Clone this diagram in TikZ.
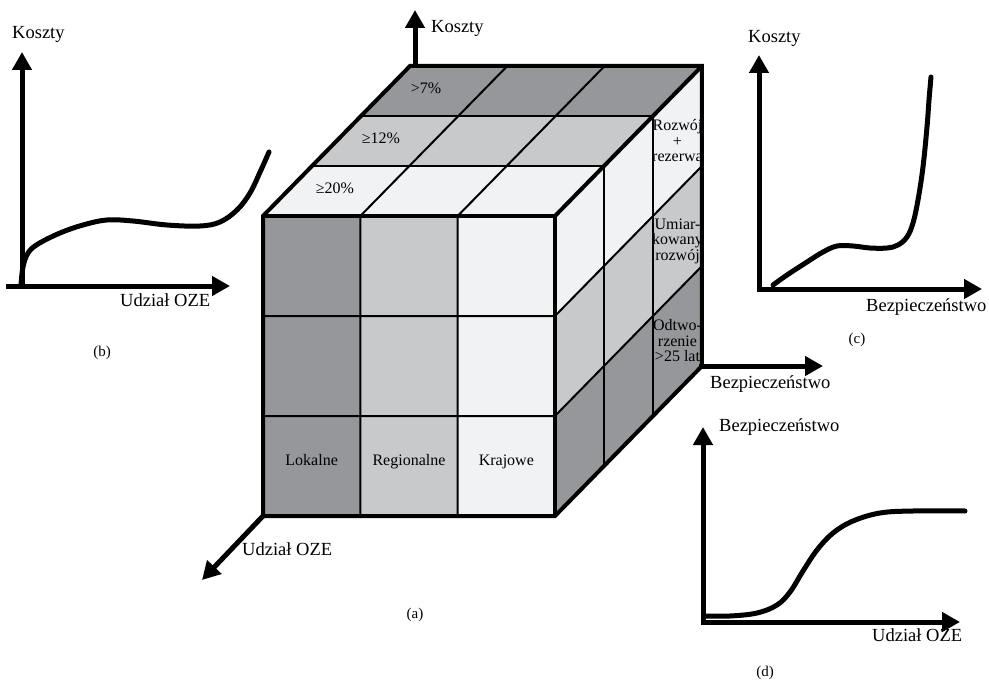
\documentclass[tikz,border=0pt]{standalone}
\usepackage{fontspec}
\setmainfont{Liberation Serif}
\usetikzlibrary{arrows.meta}

\definecolor{ciemny}{RGB}{150,151,155}
\definecolor{sredni}{RGB}{200,201,203}
\definecolor{jasny}{RGB}{241,242,244}

\tikzset{
  os/.style={line width=5pt, line cap=rect, -{Triangle[length=18pt,width=19pt]}},
  krzywa/.style={line width=5pt, line cap=round},
  krawedz/.style={line width=4pt},
  siatka/.style={line width=2pt},
  etykieta/.style={font=\fontsize{18.5}{20}\selectfont, inner sep=0pt},
  komorka/.style={font=\fontsize{16}{16}\selectfont, inner sep=0pt},
  sciana/.style={font=\fontsize{16}{15.5}\selectfont, inner sep=0pt, align=center},
  podpis/.style={font=\fontsize{15}{16}\selectfont, inner sep=0pt}
}

\begin{document}
\begin{tikzpicture}[x=1pt,y=-1pt]
  \useasboundingbox (0,0) rectangle (989,690);

  % Szescian
  \begin{scope}[shift={(263,516)}, x={(97.33pt,0pt)}, y={(0pt,100pt)}, z={(49pt,50pt)}]
    \foreach \i/\kol in {0/ciemny,1/sredni,2/jasny}
      \fill[\kol] (\i,0,0) -- (\i+1,0,0) -- (\i+1,3,0) -- (\i,3,0) -- cycle;
    \foreach \k/\kol in {0/jasny,1/sredni,2/ciemny}
      \fill[\kol] (0,3,\k) -- (3,3,\k) -- (3,3,\k+1) -- (0,3,\k+1) -- cycle;
    \foreach \j/\kol in {0/ciemny,1/sredni,2/jasny}
      \fill[\kol] (3,\j,0) -- (3,\j,3) -- (3,\j+1,3) -- (3,\j+1,0) -- cycle;

    % Siatka
    \foreach \t in {1,2} {
      \draw[siatka] (\t,0,0) -- (\t,3,0) -- (\t,3,3);
      \draw[siatka] (0,\t,0) -- (3,\t,0) -- (3,\t,3);
      \draw[siatka] (0,3,\t) -- (3,3,\t) -- (3,0,\t);
    }

    % Opisy na scianach
    \foreach \i/\nazwa in {0/Lokalne,1/Regionalne,2/Krajowe}
      \node[komorka, anchor=base] (front\i) at (\i+0.5,0.51,0) {\nazwa};
    \begin{scope}
      \clip (3,0,0) -- (3,0,3) -- (3,3,3) -- (3,3,0) -- cycle;
      \node[sciana] (bok0) at (3,0.5,2.5) {Odtwo-\\rzenie\\>25 lat};
      \node[sciana] (bok1) at (3,1.5,2.5) {Umiar-\\kowany\\rozwój};
      \node[sciana] (bok2) at (3,2.5,2.5) {Rozwój\\+\\rezerwa};
    \end{scope}

    % Krawedzie
    \draw[krawedz] (0,0,0) -- (3,0,0) -- (3,0,3) -- (3,3,3) -- (0,3,3) -- (0,3,0) -- cycle;
    \draw[krawedz] (0,3,0) -- (3,3,0) -- (3,0,0);
    \draw[krawedz] (3,3,0) -- (3,3,3);

    \coordinate (pLD) at (0,0,0);
    \coordinate (tLG) at (0,3,3);
    \coordinate (tPD) at (3,0,3);
  \end{scope}

  \node[komorka] (gora3) at (426,88) {>7\%};
  \node[komorka] (gora2) at (381,138) {≥12\%};
  \node[komorka] (gora1) at (335,188) {≥20\%};

  % Osie szescianu
  \coordinate (osK) at (415,10);
  \coordinate (osU) at (202,580);
  \coordinate (osB) at (823,366);
  \draw[os] ([xshift=5pt]tLG) -- (osK);
  \draw[os] (pLD) -- (osU);
  \draw[os] (tPD) -- (osB);
  \node[etykieta, anchor=base west] (kosztyA) at (431,33) {Koszty};
  \node[etykieta, anchor=base west] (udzialA) at (242,555) {Udział OZE};
  \node[etykieta, anchor=base west] (bezpA) at (710,388) {Bezpieczeństwo};
  \node[podpis] (podpisA) at (415,615) {(a)};

  % Wykres (b)
  \coordinate (b0) at (22,286);
  \coordinate (bY) at (22,52);
  \coordinate (bX0) at (8,286);
  \coordinate (bX) at (230,286);
  \draw[os] (b0) -- (bY);
  \draw[os] (bX0) -- (bX);
  \draw[krzywa] plot[smooth, tension=0.6] coordinates {(21,285) (23,267) (28,253) (38,244)
    (60,233) (83,225) (107,220) (133,221) (167,225) (200,226) (220,222) (237,210)
    (250,193) (261,170) (269,152)};
  \node[etykieta, anchor=base west] (kosztyB) at (12,39) {Koszty};
  \node[etykieta, anchor=base west] (udzialB) at (120,306) {Udział OZE};
  \node[podpis] (podpisB) at (102,353) {(b)};

  % Wykres (c)
  \coordinate (c0) at (759,289);
  \coordinate (cY) at (759,55);
  \coordinate (cX) at (982,289);
  \draw[os] (c0) -- (cY);
  \draw[os] (c0) -- (cX);
  \draw[krzywa] plot[smooth, tension=0.6] coordinates {(773,285) (787,275) (807,262)
    (823,252) (837,246) (853,246) (870,248) (887,248) (898,245) (907,237) (913,223)
    (918,200) (923,167) (927,127) (929,100) (931,77)};
  \node[etykieta, anchor=base west] (kosztyC) at (748,43) {Koszty};
  \node[etykieta, anchor=base west] (bezpC) at (866,311) {Bezpieczeństwo};
  \node[podpis] (podpisC) at (857,340) {(c)};

  % Wykres (d)
  \coordinate (d0) at (703,622);
  \coordinate (dY) at (703,427);
  \coordinate (dX) at (960,622);
  \draw[os] (d0) -- (dY);
  \draw[os] (d0) -- (dX);
  \draw[krzywa] plot[smooth, tension=0.6] coordinates {(705,616) (730,616) (757,613)
    (777,605) (790,592) (803,571) (817,550) (833,533) (853,521) (880,513) (913,511)
    (965,511)};
  \node[etykieta, anchor=base west] (bezpD) at (719,431) {Bezpieczeństwo};
  \node[etykieta, anchor=base west] (udzialD) at (872,641) {Udział OZE};
  \node[podpis] (podpisD) at (765,673) {(d)};
\end{tikzpicture}
\end{document}
